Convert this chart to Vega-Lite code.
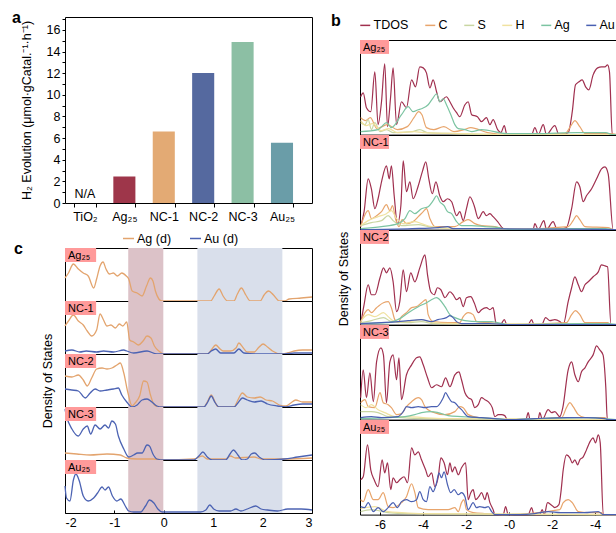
{
"$schema":"https://vega.github.io/schema/vega-lite/v6.json",
"padding":{"left":11,"top":9,"right":0,"bottom":0},
"background":"white",
"config":{"font":"Liberation Sans","view":{"stroke":"black","strokeWidth":1},
"axis":{"domainColor":"black","tickColor":"black","labelColor":"black","titleColor":"black","labelFontSize":12.5,"titleFontSize":12.5,"titleFontWeight":"normal","grid":false,"labelFont":"Liberation Sans","titleFont":"Liberation Sans","labelOverlap":false},
"axisQuantitative":{"labelOverlap":false},
"legend":{"labelFont":"Liberation Sans","labelFontSize":12.5,"labelColor":"black"},
"header":{"titleFont":"Liberation Sans","titleFontWeight":"normal","titleFontSize":12.5,"titleColor":"black"},
"title":{"font":"Liberation Sans","fontSize":16,"fontWeight":"bold","color":"black"}},
"datasets":{
"bars":[{"k":"TiO₂","v":0,"n":"N/A"},{"k":"Ag₂₅","v":2.45,"n":""},{"k":"NC-1","v":6.62,"n":""},{"k":"NC-2","v":12.02,"n":""},{"k":"NC-3","v":14.88,"n":""},{"k":"Au₂₅","v":5.58,"n":""}],
"dosc":[
{"p":"Ag₂₅","s":"pink","x":-0.72,"x2":-0.01},{"p":"Ag₂₅","s":"blue","x":0.68,"x2":2.4},
{"p":"NC-1","s":"pink","x":-0.72,"x2":-0.01},{"p":"NC-1","s":"blue","x":0.68,"x2":2.4},
{"p":"NC-2","s":"pink","x":-0.72,"x2":-0.01},{"p":"NC-2","s":"blue","x":0.68,"x2":2.4},
{"p":"NC-3","s":"pink","x":-0.72,"x2":-0.01},{"p":"NC-3","s":"blue","x":0.68,"x2":2.4},
{"p":"Au₂₅","s":"pink","x":-0.72,"x2":-0.01},{"p":"Au₂₅","s":"blue","x":0.68,"x2":2.4},
{"p":"Ag₂₅","s":"lab","t":"Ag₂₅"},{"p":"NC-1","s":"lab","t":"NC-1"},{"p":"NC-2","s":"lab","t":"NC-2"},{"p":"NC-3","s":"lab","t":"NC-3"},{"p":"Au₂₅","s":"lab","t":"Au₂₅"},
{"p":"Ag₂₅","s":"Ag (d)","x":-2.0,"y":23},{"p":"Ag₂₅","s":"Ag (d)","x":-1.93,"y":28},{"p":"Ag₂₅","s":"Ag (d)","x":-1.83,"y":37},{"p":"Ag₂₅","s":"Ag (d)","x":-1.73,"y":32},{"p":"Ag₂₅","s":"Ag (d)","x":-1.63,"y":28},{"p":"Ag₂₅","s":"Ag (d)","x":-1.53,"y":25},{"p":"Ag₂₅","s":"Ag (d)","x":-1.42,"y":13},{"p":"Ag₂₅","s":"Ag (d)","x":-1.36,"y":22},{"p":"Ag₂₅","s":"Ag (d)","x":-1.29,"y":35},{"p":"Ag₂₅","s":"Ag (d)","x":-1.23,"y":39},{"p":"Ag₂₅","s":"Ag (d)","x":-1.17,"y":32},{"p":"Ag₂₅","s":"Ag (d)","x":-1.1,"y":27},{"p":"Ag₂₅","s":"Ag (d)","x":-1.02,"y":28},{"p":"Ag₂₅","s":"Ag (d)","x":-0.94,"y":25},{"p":"Ag₂₅","s":"Ag (d)","x":-0.85,"y":28},{"p":"Ag₂₅","s":"Ag (d)","x":-0.76,"y":25},{"p":"Ag₂₅","s":"Ag (d)","x":-0.71,"y":22},{"p":"Ag₂₅","s":"Ag (d)","x":-0.64,"y":10},{"p":"Ag₂₅","s":"Ag (d)","x":-0.54,"y":8},{"p":"Ag₂₅","s":"Ag (d)","x":-0.44,"y":5},{"p":"Ag₂₅","s":"Ag (d)","x":-0.35,"y":15},{"p":"Ag₂₅","s":"Ag (d)","x":-0.27,"y":23},{"p":"Ag₂₅","s":"Ag (d)","x":-0.22,"y":20},{"p":"Ag₂₅","s":"Ag (d)","x":-0.17,"y":10},{"p":"Ag₂₅","s":"Ag (d)","x":-0.1,"y":2},{"p":"Ag₂₅","s":"Ag (d)","x":-0.04,"y":0},{"p":"Ag₂₅","s":"Ag (d)","x":0.95,"y":0},{"p":"Ag₂₅","s":"Ag (d)","x":1.02,"y":5},{"p":"Ag₂₅","s":"Ag (d)","x":1.12,"y":12},{"p":"Ag₂₅","s":"Ag (d)","x":1.2,"y":5},{"p":"Ag₂₅","s":"Ag (d)","x":1.29,"y":0},{"p":"Ag₂₅","s":"Ag (d)","x":1.42,"y":0},{"p":"Ag₂₅","s":"Ag (d)","x":1.49,"y":7},{"p":"Ag₂₅","s":"Ag (d)","x":1.57,"y":13},{"p":"Ag₂₅","s":"Ag (d)","x":1.66,"y":6},{"p":"Ag₂₅","s":"Ag (d)","x":1.75,"y":0},{"p":"Ag₂₅","s":"Ag (d)","x":1.95,"y":0},{"p":"Ag₂₅","s":"Ag (d)","x":2.03,"y":6},{"p":"Ag₂₅","s":"Ag (d)","x":2.12,"y":10},{"p":"Ag₂₅","s":"Ag (d)","x":2.22,"y":6},{"p":"Ag₂₅","s":"Ag (d)","x":2.34,"y":0},{"p":"Ag₂₅","s":"Ag (d)","x":2.44,"y":0},{"p":"Ag₂₅","s":"Ag (d)","x":2.54,"y":2},{"p":"Ag₂₅","s":"Ag (d)","x":2.78,"y":3},{"p":"Ag₂₅","s":"Ag (d)","x":3.0,"y":4},
{"p":"NC-1","s":"Ag (d)","x":-2.0,"y":28},{"p":"NC-1","s":"Ag (d)","x":-1.93,"y":33},{"p":"NC-1","s":"Ag (d)","x":-1.83,"y":39},{"p":"NC-1","s":"Ag (d)","x":-1.73,"y":33},{"p":"NC-1","s":"Ag (d)","x":-1.63,"y":29},{"p":"NC-1","s":"Ag (d)","x":-1.55,"y":23},{"p":"NC-1","s":"Ag (d)","x":-1.46,"y":18},{"p":"NC-1","s":"Ag (d)","x":-1.36,"y":24},{"p":"NC-1","s":"Ag (d)","x":-1.29,"y":40},{"p":"NC-1","s":"Ag (d)","x":-1.22,"y":34},{"p":"NC-1","s":"Ag (d)","x":-1.15,"y":28},{"p":"NC-1","s":"Ag (d)","x":-1.07,"y":29},{"p":"NC-1","s":"Ag (d)","x":-0.98,"y":26},{"p":"NC-1","s":"Ag (d)","x":-0.9,"y":30},{"p":"NC-1","s":"Ag (d)","x":-0.83,"y":28},{"p":"NC-1","s":"Ag (d)","x":-0.75,"y":32},{"p":"NC-1","s":"Ag (d)","x":-0.69,"y":14},{"p":"NC-1","s":"Ag (d)","x":-0.61,"y":12},{"p":"NC-1","s":"Ag (d)","x":-0.51,"y":9},{"p":"NC-1","s":"Ag (d)","x":-0.42,"y":13},{"p":"NC-1","s":"Ag (d)","x":-0.34,"y":18},{"p":"NC-1","s":"Ag (d)","x":-0.26,"y":16},{"p":"NC-1","s":"Ag (d)","x":-0.19,"y":8},{"p":"NC-1","s":"Ag (d)","x":-0.1,"y":3},{"p":"NC-1","s":"Ag (d)","x":0.0,"y":0},{"p":"NC-1","s":"Ag (d)","x":0.88,"y":0},{"p":"NC-1","s":"Ag (d)","x":0.96,"y":4},{"p":"NC-1","s":"Ag (d)","x":1.05,"y":9},{"p":"NC-1","s":"Ag (d)","x":1.14,"y":5},{"p":"NC-1","s":"Ag (d)","x":1.2,"y":3},{"p":"NC-1","s":"Ag (d)","x":1.35,"y":3},{"p":"NC-1","s":"Ag (d)","x":1.46,"y":6},{"p":"NC-1","s":"Ag (d)","x":1.52,"y":11},{"p":"NC-1","s":"Ag (d)","x":1.61,"y":6},{"p":"NC-1","s":"Ag (d)","x":1.69,"y":2},{"p":"NC-1","s":"Ag (d)","x":1.83,"y":2},{"p":"NC-1","s":"Ag (d)","x":1.93,"y":7},{"p":"NC-1","s":"Ag (d)","x":2.01,"y":10},{"p":"NC-1","s":"Ag (d)","x":2.1,"y":7},{"p":"NC-1","s":"Ag (d)","x":2.2,"y":3},{"p":"NC-1","s":"Ag (d)","x":2.37,"y":0},{"p":"NC-1","s":"Ag (d)","x":2.5,"y":1},{"p":"NC-1","s":"Ag (d)","x":2.64,"y":3},{"p":"NC-1","s":"Ag (d)","x":2.81,"y":4},{"p":"NC-1","s":"Ag (d)","x":3.0,"y":4},
{"p":"NC-1","s":"Au (d)","x":-2.0,"y":3},{"p":"NC-1","s":"Au (d)","x":-1.86,"y":4},{"p":"NC-1","s":"Au (d)","x":-1.7,"y":2},{"p":"NC-1","s":"Au (d)","x":-1.57,"y":3},{"p":"NC-1","s":"Au (d)","x":-1.36,"y":2},{"p":"NC-1","s":"Au (d)","x":-1.22,"y":3},{"p":"NC-1","s":"Au (d)","x":-1.02,"y":2},{"p":"NC-1","s":"Au (d)","x":-0.81,"y":4},{"p":"NC-1","s":"Au (d)","x":-0.75,"y":3},{"p":"NC-1","s":"Au (d)","x":-0.61,"y":1},{"p":"NC-1","s":"Au (d)","x":-0.34,"y":3},{"p":"NC-1","s":"Au (d)","x":-0.14,"y":0},{"p":"NC-1","s":"Au (d)","x":0.88,"y":0},{"p":"NC-1","s":"Au (d)","x":0.96,"y":3},{"p":"NC-1","s":"Au (d)","x":1.05,"y":5},{"p":"NC-1","s":"Au (d)","x":1.15,"y":1},{"p":"NC-1","s":"Au (d)","x":1.42,"y":1},{"p":"NC-1","s":"Au (d)","x":1.52,"y":5},{"p":"NC-1","s":"Au (d)","x":1.62,"y":1},{"p":"NC-1","s":"Au (d)","x":1.9,"y":0},{"p":"NC-1","s":"Au (d)","x":2.44,"y":0},{"p":"NC-1","s":"Au (d)","x":2.64,"y":1},{"p":"NC-1","s":"Au (d)","x":3.0,"y":1},
{"p":"NC-2","s":"Ag (d)","x":-2.0,"y":31},{"p":"NC-2","s":"Ag (d)","x":-1.86,"y":30},{"p":"NC-2","s":"Ag (d)","x":-1.73,"y":32},{"p":"NC-2","s":"Ag (d)","x":-1.63,"y":27},{"p":"NC-2","s":"Ag (d)","x":-1.55,"y":21},{"p":"NC-2","s":"Ag (d)","x":-1.46,"y":29},{"p":"NC-2","s":"Ag (d)","x":-1.36,"y":38},{"p":"NC-2","s":"Ag (d)","x":-1.25,"y":39},{"p":"NC-2","s":"Ag (d)","x":-1.15,"y":38},{"p":"NC-2","s":"Ag (d)","x":-1.05,"y":39},{"p":"NC-2","s":"Ag (d)","x":-0.95,"y":42},{"p":"NC-2","s":"Ag (d)","x":-0.88,"y":44},{"p":"NC-2","s":"Ag (d)","x":-0.81,"y":34},{"p":"NC-2","s":"Ag (d)","x":-0.73,"y":15},{"p":"NC-2","s":"Ag (d)","x":-0.64,"y":1},{"p":"NC-2","s":"Ag (d)","x":-0.58,"y":4},{"p":"NC-2","s":"Ag (d)","x":-0.49,"y":11},{"p":"NC-2","s":"Ag (d)","x":-0.41,"y":26},{"p":"NC-2","s":"Ag (d)","x":-0.34,"y":25},{"p":"NC-2","s":"Ag (d)","x":-0.27,"y":12},{"p":"NC-2","s":"Ag (d)","x":-0.19,"y":2},{"p":"NC-2","s":"Ag (d)","x":-0.1,"y":0},{"p":"NC-2","s":"Ag (d)","x":0.81,"y":0},{"p":"NC-2","s":"Ag (d)","x":0.89,"y":6},{"p":"NC-2","s":"Ag (d)","x":0.96,"y":12},{"p":"NC-2","s":"Ag (d)","x":1.03,"y":6},{"p":"NC-2","s":"Ag (d)","x":1.1,"y":0},{"p":"NC-2","s":"Ag (d)","x":1.42,"y":0},{"p":"NC-2","s":"Ag (d)","x":1.5,"y":7},{"p":"NC-2","s":"Ag (d)","x":1.59,"y":14},{"p":"NC-2","s":"Ag (d)","x":1.69,"y":10},{"p":"NC-2","s":"Ag (d)","x":1.83,"y":9},{"p":"NC-2","s":"Ag (d)","x":1.95,"y":10},{"p":"NC-2","s":"Ag (d)","x":2.07,"y":7},{"p":"NC-2","s":"Ag (d)","x":2.2,"y":6},{"p":"NC-2","s":"Ag (d)","x":2.34,"y":2},{"p":"NC-2","s":"Ag (d)","x":2.47,"y":1},{"p":"NC-2","s":"Ag (d)","x":2.57,"y":4},{"p":"NC-2","s":"Ag (d)","x":2.67,"y":7},{"p":"NC-2","s":"Ag (d)","x":2.81,"y":5},{"p":"NC-2","s":"Ag (d)","x":3.0,"y":5},
{"p":"NC-2","s":"Au (d)","x":-2.0,"y":18},{"p":"NC-2","s":"Au (d)","x":-1.86,"y":17},{"p":"NC-2","s":"Au (d)","x":-1.73,"y":16},{"p":"NC-2","s":"Au (d)","x":-1.59,"y":9},{"p":"NC-2","s":"Au (d)","x":-1.49,"y":14},{"p":"NC-2","s":"Au (d)","x":-1.39,"y":18},{"p":"NC-2","s":"Au (d)","x":-1.29,"y":16},{"p":"NC-2","s":"Au (d)","x":-1.15,"y":17},{"p":"NC-2","s":"Au (d)","x":-1.02,"y":18},{"p":"NC-2","s":"Au (d)","x":-0.92,"y":19},{"p":"NC-2","s":"Au (d)","x":-0.85,"y":12},{"p":"NC-2","s":"Au (d)","x":-0.75,"y":5},{"p":"NC-2","s":"Au (d)","x":-0.64,"y":0},{"p":"NC-2","s":"Au (d)","x":-0.54,"y":2},{"p":"NC-2","s":"Au (d)","x":-0.44,"y":7},{"p":"NC-2","s":"Au (d)","x":-0.34,"y":8},{"p":"NC-2","s":"Au (d)","x":-0.24,"y":5},{"p":"NC-2","s":"Au (d)","x":-0.14,"y":1},{"p":"NC-2","s":"Au (d)","x":-0.04,"y":0},{"p":"NC-2","s":"Au (d)","x":0.81,"y":0},{"p":"NC-2","s":"Au (d)","x":0.89,"y":5},{"p":"NC-2","s":"Au (d)","x":0.96,"y":11},{"p":"NC-2","s":"Au (d)","x":1.03,"y":5},{"p":"NC-2","s":"Au (d)","x":1.12,"y":0},{"p":"NC-2","s":"Au (d)","x":1.42,"y":0},{"p":"NC-2","s":"Au (d)","x":1.5,"y":4},{"p":"NC-2","s":"Au (d)","x":1.59,"y":9},{"p":"NC-2","s":"Au (d)","x":1.69,"y":7},{"p":"NC-2","s":"Au (d)","x":1.83,"y":5},{"p":"NC-2","s":"Au (d)","x":1.97,"y":6},{"p":"NC-2","s":"Au (d)","x":2.1,"y":3},{"p":"NC-2","s":"Au (d)","x":2.3,"y":1},{"p":"NC-2","s":"Au (d)","x":2.47,"y":0},{"p":"NC-2","s":"Au (d)","x":2.64,"y":2},{"p":"NC-2","s":"Au (d)","x":2.81,"y":3},{"p":"NC-2","s":"Au (d)","x":3.0,"y":3},
{"p":"NC-3","s":"Ag (d)","x":-2.0,"y":7},{"p":"NC-3","s":"Ag (d)","x":-1.76,"y":6},{"p":"NC-3","s":"Ag (d)","x":-1.49,"y":5},{"p":"NC-3","s":"Ag (d)","x":-1.15,"y":6},{"p":"NC-3","s":"Ag (d)","x":-0.88,"y":5},{"p":"NC-3","s":"Ag (d)","x":-0.75,"y":2},{"p":"NC-3","s":"Ag (d)","x":-0.54,"y":1},{"p":"NC-3","s":"Ag (d)","x":-0.2,"y":1},{"p":"NC-3","s":"Ag (d)","x":0.0,"y":0},{"p":"NC-3","s":"Ag (d)","x":0.61,"y":1},{"p":"NC-3","s":"Ag (d)","x":0.78,"y":4},{"p":"NC-3","s":"Ag (d)","x":0.88,"y":1},{"p":"NC-3","s":"Ag (d)","x":1.25,"y":1},{"p":"NC-3","s":"Ag (d)","x":1.35,"y":4},{"p":"NC-3","s":"Ag (d)","x":1.45,"y":2},{"p":"NC-3","s":"Ag (d)","x":1.83,"y":3},{"p":"NC-3","s":"Ag (d)","x":1.97,"y":1},{"p":"NC-3","s":"Ag (d)","x":2.44,"y":1},{"p":"NC-3","s":"Ag (d)","x":3.0,"y":2},
{"p":"NC-3","s":"Au (d)","x":-2.0,"y":51},{"p":"NC-3","s":"Au (d)","x":-1.97,"y":44},{"p":"NC-3","s":"Au (d)","x":-1.86,"y":31},{"p":"NC-3","s":"Au (d)","x":-1.73,"y":24},{"p":"NC-3","s":"Au (d)","x":-1.63,"y":31},{"p":"NC-3","s":"Au (d)","x":-1.55,"y":34},{"p":"NC-3","s":"Au (d)","x":-1.48,"y":26},{"p":"NC-3","s":"Au (d)","x":-1.39,"y":35},{"p":"NC-3","s":"Au (d)","x":-1.29,"y":31},{"p":"NC-3","s":"Au (d)","x":-1.19,"y":35},{"p":"NC-3","s":"Au (d)","x":-1.12,"y":32},{"p":"NC-3","s":"Au (d)","x":-1.05,"y":39},{"p":"NC-3","s":"Au (d)","x":-0.98,"y":36},{"p":"NC-3","s":"Au (d)","x":-0.92,"y":24},{"p":"NC-3","s":"Au (d)","x":-0.81,"y":11},{"p":"NC-3","s":"Au (d)","x":-0.71,"y":3},{"p":"NC-3","s":"Au (d)","x":-0.61,"y":5},{"p":"NC-3","s":"Au (d)","x":-0.53,"y":7},{"p":"NC-3","s":"Au (d)","x":-0.44,"y":7},{"p":"NC-3","s":"Au (d)","x":-0.34,"y":15},{"p":"NC-3","s":"Au (d)","x":-0.29,"y":14},{"p":"NC-3","s":"Au (d)","x":-0.22,"y":6},{"p":"NC-3","s":"Au (d)","x":-0.14,"y":1},{"p":"NC-3","s":"Au (d)","x":0.0,"y":0},{"p":"NC-3","s":"Au (d)","x":0.61,"y":0},{"p":"NC-3","s":"Au (d)","x":0.71,"y":4},{"p":"NC-3","s":"Au (d)","x":0.79,"y":8},{"p":"NC-3","s":"Au (d)","x":0.88,"y":3},{"p":"NC-3","s":"Au (d)","x":0.98,"y":0},{"p":"NC-3","s":"Au (d)","x":1.25,"y":0},{"p":"NC-3","s":"Au (d)","x":1.34,"y":6},{"p":"NC-3","s":"Au (d)","x":1.41,"y":10},{"p":"NC-3","s":"Au (d)","x":1.5,"y":5},{"p":"NC-3","s":"Au (d)","x":1.59,"y":0},{"p":"NC-3","s":"Au (d)","x":1.69,"y":1},{"p":"NC-3","s":"Au (d)","x":1.77,"y":6},{"p":"NC-3","s":"Au (d)","x":1.84,"y":7},{"p":"NC-3","s":"Au (d)","x":1.93,"y":3},{"p":"NC-3","s":"Au (d)","x":2.06,"y":0},{"p":"NC-3","s":"Au (d)","x":2.44,"y":1},{"p":"NC-3","s":"Au (d)","x":2.71,"y":3},{"p":"NC-3","s":"Au (d)","x":3.0,"y":5},
{"p":"Au₂₅","s":"Au (d)","x":-2.0,"y":27},{"p":"Au₂₅","s":"Au (d)","x":-1.97,"y":15},{"p":"Au₂₅","s":"Au (d)","x":-1.9,"y":12},{"p":"Au₂₅","s":"Au (d)","x":-1.83,"y":33},{"p":"Au₂₅","s":"Au (d)","x":-1.78,"y":39},{"p":"Au₂₅","s":"Au (d)","x":-1.71,"y":32},{"p":"Au₂₅","s":"Au (d)","x":-1.63,"y":17},{"p":"Au₂₅","s":"Au (d)","x":-1.53,"y":12},{"p":"Au₂₅","s":"Au (d)","x":-1.42,"y":15},{"p":"Au₂₅","s":"Au (d)","x":-1.34,"y":20},{"p":"Au₂₅","s":"Au (d)","x":-1.25,"y":26},{"p":"Au₂₅","s":"Au (d)","x":-1.19,"y":23},{"p":"Au₂₅","s":"Au (d)","x":-1.12,"y":26},{"p":"Au₂₅","s":"Au (d)","x":-1.04,"y":17},{"p":"Au₂₅","s":"Au (d)","x":-0.95,"y":12},{"p":"Au₂₅","s":"Au (d)","x":-0.87,"y":14},{"p":"Au₂₅","s":"Au (d)","x":-0.78,"y":7},{"p":"Au₂₅","s":"Au (d)","x":-0.71,"y":2},{"p":"Au₂₅","s":"Au (d)","x":-0.61,"y":1},{"p":"Au₂₅","s":"Au (d)","x":-0.47,"y":1},{"p":"Au₂₅","s":"Au (d)","x":-0.37,"y":7},{"p":"Au₂₅","s":"Au (d)","x":-0.29,"y":13},{"p":"Au₂₅","s":"Au (d)","x":-0.2,"y":10},{"p":"Au₂₅","s":"Au (d)","x":-0.12,"y":4},{"p":"Au₂₅","s":"Au (d)","x":-0.03,"y":1},{"p":"Au₂₅","s":"Au (d)","x":0.74,"y":1},{"p":"Au₂₅","s":"Au (d)","x":0.85,"y":3},{"p":"Au₂₅","s":"Au (d)","x":0.93,"y":8},{"p":"Au₂₅","s":"Au (d)","x":1.01,"y":4},{"p":"Au₂₅","s":"Au (d)","x":1.12,"y":2},{"p":"Au₂₅","s":"Au (d)","x":1.35,"y":2},{"p":"Au₂₅","s":"Au (d)","x":1.46,"y":4},{"p":"Au₂₅","s":"Au (d)","x":1.56,"y":2},{"p":"Au₂₅","s":"Au (d)","x":1.69,"y":4},{"p":"Au₂₅","s":"Au (d)","x":1.86,"y":7},{"p":"Au₂₅","s":"Au (d)","x":1.97,"y":4},{"p":"Au₂₅","s":"Au (d)","x":2.1,"y":3},{"p":"Au₂₅","s":"Au (d)","x":2.3,"y":2},{"p":"Au₂₅","s":"Au (d)","x":2.51,"y":4},{"p":"Au₂₅","s":"Au (d)","x":2.78,"y":4},{"p":"Au₂₅","s":"Au (d)","x":3.0,"y":3}
],
"dosb":[
{"p":"Ag₂₅","s":"lab","t":"Ag₂₅"},{"p":"NC-1","s":"lab","t":"NC-1"},{"p":"NC-2","s":"lab","t":"NC-2"},{"p":"NC-3","s":"lab","t":"NC-3"},{"p":"Au₂₅","s":"lab","t":"Au₂₅"},
{"p":"Ag₂₅","s":"TDOS","x":-6.9,"y":38},{"p":"Ag₂₅","s":"TDOS","x":-6.78,"y":42},{"p":"Ag₂₅","s":"TDOS","x":-6.63,"y":27},{"p":"Ag₂₅","s":"TDOS","x":-6.43,"y":23},{"p":"Ag₂₅","s":"TDOS","x":-6.24,"y":63},{"p":"Ag₂₅","s":"TDOS","x":-6.09,"y":10},{"p":"Ag₂₅","s":"TDOS","x":-5.93,"y":33},{"p":"Ag₂₅","s":"TDOS","x":-5.78,"y":71},{"p":"Ag₂₅","s":"TDOS","x":-5.65,"y":8},{"p":"Ag₂₅","s":"TDOS","x":-5.51,"y":37},{"p":"Ag₂₅","s":"TDOS","x":-5.39,"y":67},{"p":"Ag₂₅","s":"TDOS","x":-5.23,"y":10},{"p":"Ag₂₅","s":"TDOS","x":-5.0,"y":33},{"p":"Ag₂₅","s":"TDOS","x":-4.77,"y":27},{"p":"Ag₂₅","s":"TDOS","x":-4.53,"y":55},{"p":"Ag₂₅","s":"TDOS","x":-4.35,"y":48},{"p":"Ag₂₅","s":"TDOS","x":-4.15,"y":68},{"p":"Ag₂₅","s":"TDOS","x":-3.99,"y":67},{"p":"Ag₂₅","s":"TDOS","x":-3.84,"y":62},{"p":"Ag₂₅","s":"TDOS","x":-3.68,"y":47},{"p":"Ag₂₅","s":"TDOS","x":-3.53,"y":55},{"p":"Ag₂₅","s":"TDOS","x":-3.37,"y":43},{"p":"Ag₂₅","s":"TDOS","x":-3.22,"y":33},{"p":"Ag₂₅","s":"TDOS","x":-2.91,"y":38},{"p":"Ag₂₅","s":"TDOS","x":-2.75,"y":33},{"p":"Ag₂₅","s":"TDOS","x":-2.6,"y":27},{"p":"Ag₂₅","s":"TDOS","x":-2.44,"y":22},{"p":"Ag₂₅","s":"TDOS","x":-2.29,"y":18},{"p":"Ag₂₅","s":"TDOS","x":-2.05,"y":30},{"p":"Ag₂₅","s":"TDOS","x":-1.9,"y":33},{"p":"Ag₂₅","s":"TDOS","x":-1.74,"y":20},{"p":"Ag₂₅","s":"TDOS","x":-1.47,"y":18},{"p":"Ag₂₅","s":"TDOS","x":-1.28,"y":13},{"p":"Ag₂₅","s":"TDOS","x":-1.05,"y":17},{"p":"Ag₂₅","s":"TDOS","x":-0.89,"y":10},{"p":"Ag₂₅","s":"TDOS","x":-0.74,"y":15},{"p":"Ag₂₅","s":"TDOS","x":-0.53,"y":5},{"p":"Ag₂₅","s":"TDOS","x":-0.38,"y":2},{"p":"Ag₂₅","s":"TDOS","x":-0.22,"y":9},{"p":"Ag₂₅","s":"TDOS","x":-0.1,"y":0},{"p":"Ag₂₅","s":"TDOS","x":1.05,"y":0},{"p":"Ag₂₅","s":"TDOS","x":1.2,"y":7},{"p":"Ag₂₅","s":"TDOS","x":1.36,"y":0},{"p":"Ag₂₅","s":"TDOS","x":1.59,"y":10},{"p":"Ag₂₅","s":"TDOS","x":1.74,"y":0},{"p":"Ag₂₅","s":"TDOS","x":2.13,"y":9},{"p":"Ag₂₅","s":"TDOS","x":2.32,"y":0},{"p":"Ag₂₅","s":"TDOS","x":2.75,"y":2},{"p":"Ag₂₅","s":"TDOS","x":2.94,"y":23},{"p":"Ag₂₅","s":"TDOS","x":3.09,"y":50},{"p":"Ag₂₅","s":"TDOS","x":3.25,"y":53},{"p":"Ag₂₅","s":"TDOS","x":3.4,"y":55},{"p":"Ag₂₅","s":"TDOS","x":3.56,"y":48},{"p":"Ag₂₅","s":"TDOS","x":3.71,"y":45},{"p":"Ag₂₅","s":"TDOS","x":3.91,"y":60},{"p":"Ag₂₅","s":"TDOS","x":4.12,"y":67},{"p":"Ag₂₅","s":"TDOS","x":4.3,"y":68},{"p":"Ag₂₅","s":"TDOS","x":4.46,"y":68},{"p":"Ag₂₅","s":"TDOS","x":4.58,"y":70},{"p":"Ag₂₅","s":"TDOS","x":4.67,"y":63},{"p":"Ag₂₅","s":"TDOS","x":4.8,"y":0},{"p":"Ag₂₅","s":"TDOS","x":5.02,"y":0},
{"p":"Ag₂₅","s":"C","x":-6.9,"y":17},{"p":"Ag₂₅","s":"C","x":-6.68,"y":14},{"p":"Ag₂₅","s":"C","x":-6.45,"y":17},{"p":"Ag₂₅","s":"C","x":-6.14,"y":6},{"p":"Ag₂₅","s":"C","x":-5.66,"y":10},{"p":"Ag₂₅","s":"C","x":-5.19,"y":5},{"p":"Ag₂₅","s":"C","x":-4.73,"y":8},{"p":"Ag₂₅","s":"C","x":-4.42,"y":17},{"p":"Ag₂₅","s":"C","x":-4.2,"y":23},{"p":"Ag₂₅","s":"C","x":-4.05,"y":20},{"p":"Ag₂₅","s":"C","x":-3.84,"y":7},{"p":"Ag₂₅","s":"C","x":-3.5,"y":5},{"p":"Ag₂₅","s":"C","x":-3.03,"y":8},{"p":"Ag₂₅","s":"C","x":-2.56,"y":3},{"p":"Ag₂₅","s":"C","x":-2.09,"y":5},{"p":"Ag₂₅","s":"C","x":-1.78,"y":7},{"p":"Ag₂₅","s":"C","x":-1.0,"y":2},{"p":"Ag₂₅","s":"C","x":-0.05,"y":0},{"p":"Ag₂₅","s":"C","x":2.6,"y":1},{"p":"Ag₂₅","s":"C","x":2.91,"y":10},{"p":"Ag₂₅","s":"C","x":3.06,"y":14},{"p":"Ag₂₅","s":"C","x":3.29,"y":8},{"p":"Ag₂₅","s":"C","x":3.53,"y":1},{"p":"Ag₂₅","s":"C","x":4.75,"y":1},{"p":"Ag₂₅","s":"C","x":5.02,"y":0},
{"p":"Ag₂₅","s":"S","x":-6.9,"y":12},{"p":"Ag₂₅","s":"S","x":-6.7,"y":10},{"p":"Ag₂₅","s":"S","x":-6.55,"y":15},{"p":"Ag₂₅","s":"S","x":-6.4,"y":5},{"p":"Ag₂₅","s":"S","x":-6.24,"y":12},{"p":"Ag₂₅","s":"S","x":-6.0,"y":3},{"p":"Ag₂₅","s":"S","x":-5.7,"y":5},{"p":"Ag₂₅","s":"S","x":-5.4,"y":2},{"p":"Ag₂₅","s":"S","x":-4.5,"y":3},{"p":"Ag₂₅","s":"S","x":-4.15,"y":5},{"p":"Ag₂₅","s":"S","x":-3.8,"y":2},{"p":"Ag₂₅","s":"S","x":-2.5,"y":1},{"p":"Ag₂₅","s":"S","x":-0.1,"y":0},{"p":"Ag₂₅","s":"S","x":5.02,"y":0},
{"p":"Ag₂₅","s":"H","x":-6.9,"y":14},{"p":"Ag₂₅","s":"H","x":-6.65,"y":9},{"p":"Ag₂₅","s":"H","x":-6.35,"y":11},{"p":"Ag₂₅","s":"H","x":-5.95,"y":4},{"p":"Ag₂₅","s":"H","x":-5.6,"y":6},{"p":"Ag₂₅","s":"H","x":-5.2,"y":2},{"p":"Ag₂₅","s":"H","x":-4.4,"y":3},{"p":"Ag₂₅","s":"H","x":-4.0,"y":2},{"p":"Ag₂₅","s":"H","x":-2.0,"y":1},{"p":"Ag₂₅","s":"H","x":-0.1,"y":0},{"p":"Ag₂₅","s":"H","x":5.02,"y":0},
{"p":"Ag₂₅","s":"Ag","x":-6.9,"y":3},{"p":"Ag₂₅","s":"Ag","x":-6.09,"y":5},{"p":"Ag₂₅","s":"Ag","x":-5.93,"y":8},{"p":"Ag₂₅","s":"Ag","x":-5.7,"y":12},{"p":"Ag₂₅","s":"Ag","x":-5.47,"y":7},{"p":"Ag₂₅","s":"Ag","x":-5.0,"y":20},{"p":"Ag₂₅","s":"Ag","x":-4.69,"y":28},{"p":"Ag₂₅","s":"Ag","x":-4.46,"y":23},{"p":"Ag₂₅","s":"Ag","x":-4.22,"y":25},{"p":"Ag₂₅","s":"Ag","x":-4.07,"y":26},{"p":"Ag₂₅","s":"Ag","x":-3.76,"y":30},{"p":"Ag₂₅","s":"Ag","x":-3.53,"y":37},{"p":"Ag₂₅","s":"Ag","x":-3.37,"y":41},{"p":"Ag₂₅","s":"Ag","x":-3.22,"y":33},{"p":"Ag₂₅","s":"Ag","x":-3.06,"y":36},{"p":"Ag₂₅","s":"Ag","x":-2.91,"y":30},{"p":"Ag₂₅","s":"Ag","x":-2.67,"y":18},{"p":"Ag₂₅","s":"Ag","x":-2.52,"y":10},{"p":"Ag₂₅","s":"Ag","x":-2.36,"y":6},{"p":"Ag₂₅","s":"Ag","x":-2.05,"y":5},{"p":"Ag₂₅","s":"Ag","x":-1.74,"y":3},{"p":"Ag₂₅","s":"Ag","x":-1.28,"y":5},{"p":"Ag₂₅","s":"Ag","x":-0.1,"y":1},{"p":"Ag₂₅","s":"Ag","x":1.2,"y":1},{"p":"Ag₂₅","s":"Ag","x":3.2,"y":2},{"p":"Ag₂₅","s":"Ag","x":4.5,"y":2},{"p":"Ag₂₅","s":"Ag","x":4.8,"y":0},{"p":"Ag₂₅","s":"Ag","x":5.02,"y":0},
{"p":"NC-1","s":"TDOS","x":-6.9,"y":3},{"p":"NC-1","s":"TDOS","x":-6.74,"y":18},{"p":"NC-1","s":"TDOS","x":-6.55,"y":51},{"p":"NC-1","s":"TDOS","x":-6.4,"y":41},{"p":"NC-1","s":"TDOS","x":-6.24,"y":21},{"p":"NC-1","s":"TDOS","x":-6.09,"y":31},{"p":"NC-1","s":"TDOS","x":-5.93,"y":48},{"p":"NC-1","s":"TDOS","x":-5.7,"y":64},{"p":"NC-1","s":"TDOS","x":-5.57,"y":51},{"p":"NC-1","s":"TDOS","x":-5.47,"y":64},{"p":"NC-1","s":"TDOS","x":-5.34,"y":34},{"p":"NC-1","s":"TDOS","x":-5.19,"y":6},{"p":"NC-1","s":"TDOS","x":-5.03,"y":24},{"p":"NC-1","s":"TDOS","x":-4.92,"y":69},{"p":"NC-1","s":"TDOS","x":-4.77,"y":38},{"p":"NC-1","s":"TDOS","x":-4.61,"y":48},{"p":"NC-1","s":"TDOS","x":-4.46,"y":31},{"p":"NC-1","s":"TDOS","x":-4.22,"y":44},{"p":"NC-1","s":"TDOS","x":-4.02,"y":59},{"p":"NC-1","s":"TDOS","x":-3.87,"y":68},{"p":"NC-1","s":"TDOS","x":-3.73,"y":51},{"p":"NC-1","s":"TDOS","x":-3.57,"y":36},{"p":"NC-1","s":"TDOS","x":-3.4,"y":48},{"p":"NC-1","s":"TDOS","x":-3.22,"y":34},{"p":"NC-1","s":"TDOS","x":-3.06,"y":28},{"p":"NC-1","s":"TDOS","x":-2.86,"y":31},{"p":"NC-1","s":"TDOS","x":-2.67,"y":28},{"p":"NC-1","s":"TDOS","x":-2.44,"y":14},{"p":"NC-1","s":"TDOS","x":-2.29,"y":18},{"p":"NC-1","s":"TDOS","x":-2.13,"y":9},{"p":"NC-1","s":"TDOS","x":-1.98,"y":21},{"p":"NC-1","s":"TDOS","x":-1.82,"y":33},{"p":"NC-1","s":"TDOS","x":-1.62,"y":24},{"p":"NC-1","s":"TDOS","x":-1.43,"y":11},{"p":"NC-1","s":"TDOS","x":-1.2,"y":18},{"p":"NC-1","s":"TDOS","x":-1.05,"y":14},{"p":"NC-1","s":"TDOS","x":-0.89,"y":16},{"p":"NC-1","s":"TDOS","x":-0.74,"y":13},{"p":"NC-1","s":"TDOS","x":-0.53,"y":8},{"p":"NC-1","s":"TDOS","x":-0.27,"y":1},{"p":"NC-1","s":"TDOS","x":-0.1,"y":0},{"p":"NC-1","s":"TDOS","x":1.12,"y":0},{"p":"NC-1","s":"TDOS","x":1.2,"y":6},{"p":"NC-1","s":"TDOS","x":1.36,"y":0},{"p":"NC-1","s":"TDOS","x":1.62,"y":9},{"p":"NC-1","s":"TDOS","x":1.74,"y":0},{"p":"NC-1","s":"TDOS","x":2.05,"y":8},{"p":"NC-1","s":"TDOS","x":2.24,"y":0},{"p":"NC-1","s":"TDOS","x":2.67,"y":2},{"p":"NC-1","s":"TDOS","x":2.91,"y":21},{"p":"NC-1","s":"TDOS","x":3.14,"y":48},{"p":"NC-1","s":"TDOS","x":3.29,"y":43},{"p":"NC-1","s":"TDOS","x":3.45,"y":28},{"p":"NC-1","s":"TDOS","x":3.6,"y":34},{"p":"NC-1","s":"TDOS","x":3.84,"y":41},{"p":"NC-1","s":"TDOS","x":4.07,"y":51},{"p":"NC-1","s":"TDOS","x":4.3,"y":61},{"p":"NC-1","s":"TDOS","x":4.46,"y":63},{"p":"NC-1","s":"TDOS","x":4.61,"y":56},{"p":"NC-1","s":"TDOS","x":4.84,"y":0},{"p":"NC-1","s":"TDOS","x":5.02,"y":0},
{"p":"NC-1","s":"C","x":-6.9,"y":3},{"p":"NC-1","s":"C","x":-6.55,"y":19},{"p":"NC-1","s":"C","x":-6.4,"y":11},{"p":"NC-1","s":"C","x":-6.16,"y":14},{"p":"NC-1","s":"C","x":-5.93,"y":18},{"p":"NC-1","s":"C","x":-5.7,"y":25},{"p":"NC-1","s":"C","x":-5.54,"y":19},{"p":"NC-1","s":"C","x":-5.42,"y":24},{"p":"NC-1","s":"C","x":-5.28,"y":11},{"p":"NC-1","s":"C","x":-5.12,"y":3},{"p":"NC-1","s":"C","x":-4.97,"y":10},{"p":"NC-1","s":"C","x":-4.77,"y":6},{"p":"NC-1","s":"C","x":-4.46,"y":8},{"p":"NC-1","s":"C","x":-4.22,"y":13},{"p":"NC-1","s":"C","x":-3.99,"y":18},{"p":"NC-1","s":"C","x":-3.84,"y":21},{"p":"NC-1","s":"C","x":-3.68,"y":11},{"p":"NC-1","s":"C","x":-3.45,"y":3},{"p":"NC-1","s":"C","x":-2.52,"y":3},{"p":"NC-1","s":"C","x":-2.13,"y":8},{"p":"NC-1","s":"C","x":-1.9,"y":10},{"p":"NC-1","s":"C","x":-1.59,"y":6},{"p":"NC-1","s":"C","x":-1.28,"y":4},{"p":"NC-1","s":"C","x":-0.66,"y":3},{"p":"NC-1","s":"C","x":-0.05,"y":0},{"p":"NC-1","s":"C","x":2.75,"y":3},{"p":"NC-1","s":"C","x":2.98,"y":9},{"p":"NC-1","s":"C","x":3.14,"y":14},{"p":"NC-1","s":"C","x":3.29,"y":10},{"p":"NC-1","s":"C","x":3.53,"y":3},{"p":"NC-1","s":"C","x":4.61,"y":2},{"p":"NC-1","s":"C","x":4.84,"y":0},{"p":"NC-1","s":"C","x":5.02,"y":0},
{"p":"NC-1","s":"S","x":-6.9,"y":4},{"p":"NC-1","s":"S","x":-6.4,"y":7},{"p":"NC-1","s":"S","x":-5.93,"y":9},{"p":"NC-1","s":"S","x":-5.62,"y":14},{"p":"NC-1","s":"S","x":-5.39,"y":9},{"p":"NC-1","s":"S","x":-5.0,"y":4},{"p":"NC-1","s":"S","x":-4.22,"y":5},{"p":"NC-1","s":"S","x":-3.76,"y":3},{"p":"NC-1","s":"S","x":-2.52,"y":1},{"p":"NC-1","s":"S","x":5.02,"y":0},
{"p":"NC-1","s":"H","x":-6.9,"y":4},{"p":"NC-1","s":"H","x":-6.55,"y":9},{"p":"NC-1","s":"H","x":-6.09,"y":13},{"p":"NC-1","s":"H","x":-5.7,"y":16},{"p":"NC-1","s":"H","x":-5.47,"y":19},{"p":"NC-1","s":"H","x":-5.23,"y":11},{"p":"NC-1","s":"H","x":-4.92,"y":6},{"p":"NC-1","s":"H","x":-4.38,"y":8},{"p":"NC-1","s":"H","x":-4.07,"y":6},{"p":"NC-1","s":"H","x":-3.61,"y":3},{"p":"NC-1","s":"H","x":-2.52,"y":1},{"p":"NC-1","s":"H","x":5.02,"y":0},
{"p":"NC-1","s":"Ag","x":-6.9,"y":1},{"p":"NC-1","s":"Ag","x":-5.93,"y":3},{"p":"NC-1","s":"Ag","x":-5.16,"y":6},{"p":"NC-1","s":"Ag","x":-4.84,"y":11},{"p":"NC-1","s":"Ag","x":-4.61,"y":19},{"p":"NC-1","s":"Ag","x":-4.38,"y":16},{"p":"NC-1","s":"Ag","x":-4.07,"y":21},{"p":"NC-1","s":"Ag","x":-3.76,"y":23},{"p":"NC-1","s":"Ag","x":-3.53,"y":29},{"p":"NC-1","s":"Ag","x":-3.37,"y":34},{"p":"NC-1","s":"Ag","x":-3.22,"y":28},{"p":"NC-1","s":"Ag","x":-3.02,"y":24},{"p":"NC-1","s":"Ag","x":-2.86,"y":18},{"p":"NC-1","s":"Ag","x":-2.67,"y":16},{"p":"NC-1","s":"Ag","x":-2.44,"y":8},{"p":"NC-1","s":"Ag","x":-2.21,"y":4},{"p":"NC-1","s":"Ag","x":-1.74,"y":4},{"p":"NC-1","s":"Ag","x":-1.12,"y":3},{"p":"NC-1","s":"Ag","x":-0.5,"y":2},{"p":"NC-1","s":"Ag","x":0.0,"y":0},{"p":"NC-1","s":"Ag","x":3.2,"y":1},{"p":"NC-1","s":"Ag","x":4.5,"y":1},{"p":"NC-1","s":"Ag","x":4.84,"y":0},{"p":"NC-1","s":"Ag","x":5.02,"y":0},
{"p":"NC-1","s":"Au","x":-6.9,"y":0},{"p":"NC-1","s":"Au","x":-4.5,"y":1},{"p":"NC-1","s":"Au","x":-3.3,"y":2},{"p":"NC-1","s":"Au","x":-2.86,"y":3},{"p":"NC-1","s":"Au","x":-2.6,"y":1},{"p":"NC-1","s":"Au","x":-1.5,"y":1},{"p":"NC-1","s":"Au","x":5.02,"y":0},
{"p":"NC-2","s":"TDOS","x":-6.9,"y":0},{"p":"NC-2","s":"TDOS","x":-6.74,"y":20},{"p":"NC-2","s":"TDOS","x":-6.55,"y":40},{"p":"NC-2","s":"TDOS","x":-6.4,"y":30},{"p":"NC-2","s":"TDOS","x":-6.24,"y":30},{"p":"NC-2","s":"TDOS","x":-6.0,"y":47},{"p":"NC-2","s":"TDOS","x":-5.84,"y":57},{"p":"NC-2","s":"TDOS","x":-5.7,"y":52},{"p":"NC-2","s":"TDOS","x":-5.54,"y":57},{"p":"NC-2","s":"TDOS","x":-5.39,"y":43},{"p":"NC-2","s":"TDOS","x":-5.23,"y":13},{"p":"NC-2","s":"TDOS","x":-5.08,"y":23},{"p":"NC-2","s":"TDOS","x":-4.92,"y":55},{"p":"NC-2","s":"TDOS","x":-4.77,"y":33},{"p":"NC-2","s":"TDOS","x":-4.57,"y":52},{"p":"NC-2","s":"TDOS","x":-4.38,"y":43},{"p":"NC-2","s":"TDOS","x":-4.15,"y":57},{"p":"NC-2","s":"TDOS","x":-3.91,"y":70},{"p":"NC-2","s":"TDOS","x":-3.79,"y":50},{"p":"NC-2","s":"TDOS","x":-3.64,"y":33},{"p":"NC-2","s":"TDOS","x":-3.48,"y":30},{"p":"NC-2","s":"TDOS","x":-3.33,"y":37},{"p":"NC-2","s":"TDOS","x":-3.17,"y":35},{"p":"NC-2","s":"TDOS","x":-2.98,"y":27},{"p":"NC-2","s":"TDOS","x":-2.75,"y":33},{"p":"NC-2","s":"TDOS","x":-2.6,"y":30},{"p":"NC-2","s":"TDOS","x":-2.44,"y":25},{"p":"NC-2","s":"TDOS","x":-2.29,"y":27},{"p":"NC-2","s":"TDOS","x":-2.13,"y":18},{"p":"NC-2","s":"TDOS","x":-1.98,"y":27},{"p":"NC-2","s":"TDOS","x":-1.78,"y":28},{"p":"NC-2","s":"TDOS","x":-1.62,"y":22},{"p":"NC-2","s":"TDOS","x":-1.43,"y":12},{"p":"NC-2","s":"TDOS","x":-1.28,"y":15},{"p":"NC-2","s":"TDOS","x":-1.05,"y":17},{"p":"NC-2","s":"TDOS","x":-0.89,"y":15},{"p":"NC-2","s":"TDOS","x":-0.74,"y":17},{"p":"NC-2","s":"TDOS","x":-0.61,"y":2},{"p":"NC-2","s":"TDOS","x":-0.4,"y":0},{"p":"NC-2","s":"TDOS","x":-0.22,"y":5},{"p":"NC-2","s":"TDOS","x":-0.1,"y":0},{"p":"NC-2","s":"TDOS","x":0.89,"y":0},{"p":"NC-2","s":"TDOS","x":1.05,"y":5},{"p":"NC-2","s":"TDOS","x":1.16,"y":0},{"p":"NC-2","s":"TDOS","x":1.52,"y":0},{"p":"NC-2","s":"TDOS","x":1.7,"y":7},{"p":"NC-2","s":"TDOS","x":1.9,"y":4},{"p":"NC-2","s":"TDOS","x":2.13,"y":5},{"p":"NC-2","s":"TDOS","x":2.36,"y":3},{"p":"NC-2","s":"TDOS","x":2.52,"y":0},{"p":"NC-2","s":"TDOS","x":2.75,"y":23},{"p":"NC-2","s":"TDOS","x":2.91,"y":37},{"p":"NC-2","s":"TDOS","x":3.06,"y":48},{"p":"NC-2","s":"TDOS","x":3.22,"y":40},{"p":"NC-2","s":"TDOS","x":3.37,"y":33},{"p":"NC-2","s":"TDOS","x":3.53,"y":40},{"p":"NC-2","s":"TDOS","x":3.68,"y":43},{"p":"NC-2","s":"TDOS","x":3.91,"y":48},{"p":"NC-2","s":"TDOS","x":4.15,"y":53},{"p":"NC-2","s":"TDOS","x":4.3,"y":60},{"p":"NC-2","s":"TDOS","x":4.46,"y":59},{"p":"NC-2","s":"TDOS","x":4.58,"y":58},{"p":"NC-2","s":"TDOS","x":4.74,"y":0},{"p":"NC-2","s":"TDOS","x":5.02,"y":0},
{"p":"NC-2","s":"C","x":-6.9,"y":2},{"p":"NC-2","s":"C","x":-6.7,"y":12},{"p":"NC-2","s":"C","x":-6.55,"y":15},{"p":"NC-2","s":"C","x":-6.4,"y":12},{"p":"NC-2","s":"C","x":-6.16,"y":17},{"p":"NC-2","s":"C","x":-5.84,"y":22},{"p":"NC-2","s":"C","x":-5.62,"y":23},{"p":"NC-2","s":"C","x":-5.47,"y":17},{"p":"NC-2","s":"C","x":-5.31,"y":5},{"p":"NC-2","s":"C","x":-5.16,"y":2},{"p":"NC-2","s":"C","x":-5.0,"y":8},{"p":"NC-2","s":"C","x":-4.77,"y":12},{"p":"NC-2","s":"C","x":-4.53,"y":17},{"p":"NC-2","s":"C","x":-4.3,"y":18},{"p":"NC-2","s":"C","x":-4.07,"y":22},{"p":"NC-2","s":"C","x":-3.86,"y":25},{"p":"NC-2","s":"C","x":-3.76,"y":10},{"p":"NC-2","s":"C","x":-3.53,"y":3},{"p":"NC-2","s":"C","x":-2.83,"y":2},{"p":"NC-2","s":"C","x":-2.29,"y":2},{"p":"NC-2","s":"C","x":-2.13,"y":8},{"p":"NC-2","s":"C","x":-1.9,"y":12},{"p":"NC-2","s":"C","x":-1.67,"y":10},{"p":"NC-2","s":"C","x":-1.51,"y":3},{"p":"NC-2","s":"C","x":-0.97,"y":2},{"p":"NC-2","s":"C","x":-0.05,"y":0},{"p":"NC-2","s":"C","x":2.67,"y":2},{"p":"NC-2","s":"C","x":2.91,"y":10},{"p":"NC-2","s":"C","x":3.09,"y":14},{"p":"NC-2","s":"C","x":3.29,"y":10},{"p":"NC-2","s":"C","x":3.53,"y":2},{"p":"NC-2","s":"C","x":4.58,"y":2},{"p":"NC-2","s":"C","x":4.74,"y":0},{"p":"NC-2","s":"C","x":5.02,"y":0},
{"p":"NC-2","s":"S","x":-6.9,"y":2},{"p":"NC-2","s":"S","x":-6.4,"y":4},{"p":"NC-2","s":"S","x":-5.84,"y":7},{"p":"NC-2","s":"S","x":-5.47,"y":3},{"p":"NC-2","s":"S","x":-4.69,"y":2},{"p":"NC-2","s":"S","x":-4.07,"y":3},{"p":"NC-2","s":"S","x":-3.5,"y":1},{"p":"NC-2","s":"S","x":5.02,"y":0},
{"p":"NC-2","s":"H","x":-6.9,"y":3},{"p":"NC-2","s":"H","x":-6.55,"y":10},{"p":"NC-2","s":"H","x":-6.24,"y":8},{"p":"NC-2","s":"H","x":-5.84,"y":12},{"p":"NC-2","s":"H","x":-5.62,"y":8},{"p":"NC-2","s":"H","x":-5.31,"y":3},{"p":"NC-2","s":"H","x":-4.69,"y":3},{"p":"NC-2","s":"H","x":-4.07,"y":5},{"p":"NC-2","s":"H","x":-3.61,"y":2},{"p":"NC-2","s":"H","x":-2.5,"y":1},{"p":"NC-2","s":"H","x":5.02,"y":0},
{"p":"NC-2","s":"Ag","x":-6.9,"y":1},{"p":"NC-2","s":"Ag","x":-5.62,"y":2},{"p":"NC-2","s":"Ag","x":-5.0,"y":7},{"p":"NC-2","s":"Ag","x":-4.61,"y":13},{"p":"NC-2","s":"Ag","x":-4.22,"y":18},{"p":"NC-2","s":"Ag","x":-3.84,"y":22},{"p":"NC-2","s":"Ag","x":-3.61,"y":25},{"p":"NC-2","s":"Ag","x":-3.37,"y":27},{"p":"NC-2","s":"Ag","x":-3.22,"y":25},{"p":"NC-2","s":"Ag","x":-2.98,"y":18},{"p":"NC-2","s":"Ag","x":-2.75,"y":10},{"p":"NC-2","s":"Ag","x":-2.52,"y":7},{"p":"NC-2","s":"Ag","x":-2.05,"y":4},{"p":"NC-2","s":"Ag","x":-1.43,"y":3},{"p":"NC-2","s":"Ag","x":-0.81,"y":3},{"p":"NC-2","s":"Ag","x":-0.05,"y":0},{"p":"NC-2","s":"Ag","x":3.5,"y":1},{"p":"NC-2","s":"Ag","x":4.6,"y":1},{"p":"NC-2","s":"Ag","x":5.02,"y":0},
{"p":"NC-2","s":"Au","x":-6.9,"y":1},{"p":"NC-2","s":"Au","x":-5.93,"y":2},{"p":"NC-2","s":"Au","x":-5.16,"y":3},{"p":"NC-2","s":"Au","x":-4.69,"y":4},{"p":"NC-2","s":"Au","x":-4.07,"y":5},{"p":"NC-2","s":"Au","x":-3.61,"y":3},{"p":"NC-2","s":"Au","x":-3.3,"y":5},{"p":"NC-2","s":"Au","x":-2.91,"y":7},{"p":"NC-2","s":"Au","x":-2.75,"y":9},{"p":"NC-2","s":"Au","x":-2.6,"y":7},{"p":"NC-2","s":"Au","x":-2.44,"y":3},{"p":"NC-2","s":"Au","x":-2.21,"y":1},{"p":"NC-2","s":"Au","x":-0.9,"y":1},{"p":"NC-2","s":"Au","x":0.0,"y":0},{"p":"NC-2","s":"Au","x":5.02,"y":0},
{"p":"NC-3","s":"TDOS","x":-6.9,"y":22},{"p":"NC-3","s":"TDOS","x":-6.78,"y":50},{"p":"NC-3","s":"TDOS","x":-6.63,"y":22},{"p":"NC-3","s":"TDOS","x":-6.47,"y":47},{"p":"NC-3","s":"TDOS","x":-6.31,"y":18},{"p":"NC-3","s":"TDOS","x":-6.16,"y":58},{"p":"NC-3","s":"TDOS","x":-5.96,"y":72},{"p":"NC-3","s":"TDOS","x":-5.84,"y":65},{"p":"NC-3","s":"TDOS","x":-5.7,"y":17},{"p":"NC-3","s":"TDOS","x":-5.54,"y":58},{"p":"NC-3","s":"TDOS","x":-5.39,"y":65},{"p":"NC-3","s":"TDOS","x":-5.23,"y":40},{"p":"NC-3","s":"TDOS","x":-5.12,"y":62},{"p":"NC-3","s":"TDOS","x":-5.0,"y":20},{"p":"NC-3","s":"TDOS","x":-4.77,"y":45},{"p":"NC-3","s":"TDOS","x":-4.53,"y":55},{"p":"NC-3","s":"TDOS","x":-4.3,"y":62},{"p":"NC-3","s":"TDOS","x":-4.15,"y":63},{"p":"NC-3","s":"TDOS","x":-3.99,"y":55},{"p":"NC-3","s":"TDOS","x":-3.79,"y":42},{"p":"NC-3","s":"TDOS","x":-3.6,"y":32},{"p":"NC-3","s":"TDOS","x":-3.37,"y":35},{"p":"NC-3","s":"TDOS","x":-3.14,"y":33},{"p":"NC-3","s":"TDOS","x":-2.95,"y":42},{"p":"NC-3","s":"TDOS","x":-2.75,"y":33},{"p":"NC-3","s":"TDOS","x":-2.52,"y":45},{"p":"NC-3","s":"TDOS","x":-2.33,"y":48},{"p":"NC-3","s":"TDOS","x":-2.21,"y":40},{"p":"NC-3","s":"TDOS","x":-2.05,"y":27},{"p":"NC-3","s":"TDOS","x":-1.9,"y":22},{"p":"NC-3","s":"TDOS","x":-1.74,"y":20},{"p":"NC-3","s":"TDOS","x":-1.59,"y":12},{"p":"NC-3","s":"TDOS","x":-1.43,"y":15},{"p":"NC-3","s":"TDOS","x":-1.28,"y":22},{"p":"NC-3","s":"TDOS","x":-1.12,"y":20},{"p":"NC-3","s":"TDOS","x":-0.97,"y":18},{"p":"NC-3","s":"TDOS","x":-0.78,"y":12},{"p":"NC-3","s":"TDOS","x":-0.66,"y":3},{"p":"NC-3","s":"TDOS","x":-0.5,"y":5},{"p":"NC-3","s":"TDOS","x":-0.35,"y":5},{"p":"NC-3","s":"TDOS","x":-0.2,"y":4},{"p":"NC-3","s":"TDOS","x":-0.08,"y":0},{"p":"NC-3","s":"TDOS","x":0.78,"y":0},{"p":"NC-3","s":"TDOS","x":0.89,"y":7},{"p":"NC-3","s":"TDOS","x":0.98,"y":0},{"p":"NC-3","s":"TDOS","x":1.35,"y":0},{"p":"NC-3","s":"TDOS","x":1.43,"y":7},{"p":"NC-3","s":"TDOS","x":1.55,"y":0},{"p":"NC-3","s":"TDOS","x":1.82,"y":10},{"p":"NC-3","s":"TDOS","x":1.98,"y":7},{"p":"NC-3","s":"TDOS","x":2.13,"y":8},{"p":"NC-3","s":"TDOS","x":2.36,"y":3},{"p":"NC-3","s":"TDOS","x":2.5,"y":12},{"p":"NC-3","s":"TDOS","x":2.75,"y":50},{"p":"NC-3","s":"TDOS","x":2.91,"y":58},{"p":"NC-3","s":"TDOS","x":3.06,"y":45},{"p":"NC-3","s":"TDOS","x":3.22,"y":38},{"p":"NC-3","s":"TDOS","x":3.37,"y":48},{"p":"NC-3","s":"TDOS","x":3.53,"y":52},{"p":"NC-3","s":"TDOS","x":3.68,"y":58},{"p":"NC-3","s":"TDOS","x":3.91,"y":65},{"p":"NC-3","s":"TDOS","x":4.07,"y":74},{"p":"NC-3","s":"TDOS","x":4.22,"y":70},{"p":"NC-3","s":"TDOS","x":4.37,"y":65},{"p":"NC-3","s":"TDOS","x":4.5,"y":32},{"p":"NC-3","s":"TDOS","x":4.57,"y":0},{"p":"NC-3","s":"TDOS","x":5.02,"y":0},
{"p":"NC-3","s":"C","x":-6.9,"y":17},{"p":"NC-3","s":"C","x":-6.7,"y":20},{"p":"NC-3","s":"C","x":-6.55,"y":13},{"p":"NC-3","s":"C","x":-6.24,"y":12},{"p":"NC-3","s":"C","x":-6.0,"y":27},{"p":"NC-3","s":"C","x":-5.85,"y":17},{"p":"NC-3","s":"C","x":-5.62,"y":15},{"p":"NC-3","s":"C","x":-5.47,"y":12},{"p":"NC-3","s":"C","x":-5.23,"y":5},{"p":"NC-3","s":"C","x":-5.0,"y":6},{"p":"NC-3","s":"C","x":-4.77,"y":13},{"p":"NC-3","s":"C","x":-4.53,"y":18},{"p":"NC-3","s":"C","x":-4.22,"y":22},{"p":"NC-3","s":"C","x":-4.07,"y":20},{"p":"NC-3","s":"C","x":-3.91,"y":13},{"p":"NC-3","s":"C","x":-3.61,"y":8},{"p":"NC-3","s":"C","x":-2.98,"y":5},{"p":"NC-3","s":"C","x":-2.52,"y":8},{"p":"NC-3","s":"C","x":-2.29,"y":13},{"p":"NC-3","s":"C","x":-2.13,"y":12},{"p":"NC-3","s":"C","x":-1.9,"y":5},{"p":"NC-3","s":"C","x":-1.43,"y":2},{"p":"NC-3","s":"C","x":-0.66,"y":1},{"p":"NC-3","s":"C","x":-0.05,"y":0},{"p":"NC-3","s":"C","x":2.45,"y":2},{"p":"NC-3","s":"C","x":2.67,"y":12},{"p":"NC-3","s":"C","x":2.83,"y":17},{"p":"NC-3","s":"C","x":2.98,"y":13},{"p":"NC-3","s":"C","x":3.22,"y":5},{"p":"NC-3","s":"C","x":3.53,"y":2},{"p":"NC-3","s":"C","x":4.45,"y":2},{"p":"NC-3","s":"C","x":4.57,"y":0},{"p":"NC-3","s":"C","x":5.02,"y":0},
{"p":"NC-3","s":"S","x":-6.9,"y":8},{"p":"NC-3","s":"S","x":-6.4,"y":8},{"p":"NC-3","s":"S","x":-6.09,"y":7},{"p":"NC-3","s":"S","x":-5.62,"y":3},{"p":"NC-3","s":"S","x":-5.0,"y":2},{"p":"NC-3","s":"S","x":-4.0,"y":1},{"p":"NC-3","s":"S","x":5.02,"y":0},
{"p":"NC-3","s":"H","x":-6.9,"y":15},{"p":"NC-3","s":"H","x":-6.65,"y":12},{"p":"NC-3","s":"H","x":-6.4,"y":15},{"p":"NC-3","s":"H","x":-6.09,"y":10},{"p":"NC-3","s":"H","x":-5.78,"y":7},{"p":"NC-3","s":"H","x":-5.31,"y":3},{"p":"NC-3","s":"H","x":-4.69,"y":3},{"p":"NC-3","s":"H","x":-4.0,"y":2},{"p":"NC-3","s":"H","x":-3.0,"y":1},{"p":"NC-3","s":"H","x":5.02,"y":0},
{"p":"NC-3","s":"Ag","x":-6.9,"y":1},{"p":"NC-3","s":"Ag","x":-5.62,"y":2},{"p":"NC-3","s":"Ag","x":-4.84,"y":3},{"p":"NC-3","s":"Ag","x":-4.38,"y":5},{"p":"NC-3","s":"Ag","x":-4.07,"y":7},{"p":"NC-3","s":"Ag","x":-3.61,"y":8},{"p":"NC-3","s":"Ag","x":-3.3,"y":7},{"p":"NC-3","s":"Ag","x":-2.83,"y":4},{"p":"NC-3","s":"Ag","x":-2.21,"y":3},{"p":"NC-3","s":"Ag","x":-1.43,"y":2},{"p":"NC-3","s":"Ag","x":-0.66,"y":1},{"p":"NC-3","s":"Ag","x":0.0,"y":0},{"p":"NC-3","s":"Ag","x":1.3,"y":1},{"p":"NC-3","s":"Ag","x":3.7,"y":2},{"p":"NC-3","s":"Ag","x":4.45,"y":1},{"p":"NC-3","s":"Ag","x":5.02,"y":0},
{"p":"NC-3","s":"Au","x":-6.9,"y":2},{"p":"NC-3","s":"Au","x":-6.4,"y":3},{"p":"NC-3","s":"Au","x":-5.93,"y":2},{"p":"NC-3","s":"Au","x":-5.16,"y":3},{"p":"NC-3","s":"Au","x":-4.92,"y":8},{"p":"NC-3","s":"Au","x":-4.77,"y":13},{"p":"NC-3","s":"Au","x":-4.53,"y":12},{"p":"NC-3","s":"Au","x":-4.22,"y":13},{"p":"NC-3","s":"Au","x":-3.91,"y":12},{"p":"NC-3","s":"Au","x":-3.61,"y":13},{"p":"NC-3","s":"Au","x":-3.37,"y":13},{"p":"NC-3","s":"Au","x":-3.06,"y":22},{"p":"NC-3","s":"Au","x":-2.95,"y":27},{"p":"NC-3","s":"Au","x":-2.83,"y":23},{"p":"NC-3","s":"Au","x":-2.67,"y":18},{"p":"NC-3","s":"Au","x":-2.52,"y":17},{"p":"NC-3","s":"Au","x":-2.36,"y":13},{"p":"NC-3","s":"Au","x":-2.21,"y":10},{"p":"NC-3","s":"Au","x":-1.9,"y":3},{"p":"NC-3","s":"Au","x":-1.28,"y":2},{"p":"NC-3","s":"Au","x":-0.66,"y":1},{"p":"NC-3","s":"Au","x":0.0,"y":0},{"p":"NC-3","s":"Au","x":1.2,"y":1},{"p":"NC-3","s":"Au","x":2.7,"y":2},{"p":"NC-3","s":"Au","x":3.6,"y":2},{"p":"NC-3","s":"Au","x":4.45,"y":1},{"p":"NC-3","s":"Au","x":4.57,"y":0},{"p":"NC-3","s":"Au","x":5.02,"y":0},
{"p":"Au₂₅","s":"TDOS","x":-6.9,"y":35},{"p":"Au₂₅","s":"TDOS","x":-6.78,"y":38},{"p":"Au₂₅","s":"TDOS","x":-6.58,"y":70},{"p":"Au₂₅","s":"TDOS","x":-6.43,"y":45},{"p":"Au₂₅","s":"TDOS","x":-6.27,"y":35},{"p":"Au₂₅","s":"TDOS","x":-6.09,"y":28},{"p":"Au₂₅","s":"TDOS","x":-5.9,"y":55},{"p":"Au₂₅","s":"TDOS","x":-5.78,"y":42},{"p":"Au₂₅","s":"TDOS","x":-5.65,"y":52},{"p":"Au₂₅","s":"TDOS","x":-5.5,"y":25},{"p":"Au₂₅","s":"TDOS","x":-5.39,"y":37},{"p":"Au₂₅","s":"TDOS","x":-5.23,"y":32},{"p":"Au₂₅","s":"TDOS","x":-5.08,"y":35},{"p":"Au₂₅","s":"TDOS","x":-4.88,"y":38},{"p":"Au₂₅","s":"TDOS","x":-4.72,"y":32},{"p":"Au₂₅","s":"TDOS","x":-4.53,"y":67},{"p":"Au₂₅","s":"TDOS","x":-4.38,"y":60},{"p":"Au₂₅","s":"TDOS","x":-4.22,"y":63},{"p":"Au₂₅","s":"TDOS","x":-4.07,"y":55},{"p":"Au₂₅","s":"TDOS","x":-3.88,"y":45},{"p":"Au₂₅","s":"TDOS","x":-3.76,"y":38},{"p":"Au₂₅","s":"TDOS","x":-3.6,"y":42},{"p":"Au₂₅","s":"TDOS","x":-3.45,"y":28},{"p":"Au₂₅","s":"TDOS","x":-3.29,"y":38},{"p":"Au₂₅","s":"TDOS","x":-3.17,"y":57},{"p":"Au₂₅","s":"TDOS","x":-3.02,"y":52},{"p":"Au₂₅","s":"TDOS","x":-2.86,"y":40},{"p":"Au₂₅","s":"TDOS","x":-2.75,"y":52},{"p":"Au₂₅","s":"TDOS","x":-2.64,"y":43},{"p":"Au₂₅","s":"TDOS","x":-2.52,"y":48},{"p":"Au₂₅","s":"TDOS","x":-2.36,"y":40},{"p":"Au₂₅","s":"TDOS","x":-2.21,"y":47},{"p":"Au₂₅","s":"TDOS","x":-2.02,"y":52},{"p":"Au₂₅","s":"TDOS","x":-1.9,"y":15},{"p":"Au₂₅","s":"TDOS","x":-1.78,"y":22},{"p":"Au₂₅","s":"TDOS","x":-1.67,"y":25},{"p":"Au₂₅","s":"TDOS","x":-1.55,"y":15},{"p":"Au₂₅","s":"TDOS","x":-1.41,"y":18},{"p":"Au₂₅","s":"TDOS","x":-1.28,"y":22},{"p":"Au₂₅","s":"TDOS","x":-1.12,"y":15},{"p":"Au₂₅","s":"TDOS","x":-1.02,"y":22},{"p":"Au₂₅","s":"TDOS","x":-0.89,"y":12},{"p":"Au₂₅","s":"TDOS","x":-0.74,"y":5},{"p":"Au₂₅","s":"TDOS","x":-0.66,"y":0},{"p":"Au₂₅","s":"TDOS","x":-0.27,"y":0},{"p":"Au₂₅","s":"TDOS","x":-0.16,"y":8},{"p":"Au₂₅","s":"TDOS","x":-0.04,"y":0},{"p":"Au₂₅","s":"TDOS","x":0.89,"y":0},{"p":"Au₂₅","s":"TDOS","x":1.05,"y":7},{"p":"Au₂₅","s":"TDOS","x":1.16,"y":0},{"p":"Au₂₅","s":"TDOS","x":1.43,"y":0},{"p":"Au₂₅","s":"TDOS","x":1.54,"y":5},{"p":"Au₂₅","s":"TDOS","x":1.64,"y":0},{"p":"Au₂₅","s":"TDOS","x":1.79,"y":12},{"p":"Au₂₅","s":"TDOS","x":1.95,"y":10},{"p":"Au₂₅","s":"TDOS","x":2.13,"y":7},{"p":"Au₂₅","s":"TDOS","x":2.32,"y":10},{"p":"Au₂₅","s":"TDOS","x":2.41,"y":22},{"p":"Au₂₅","s":"TDOS","x":2.52,"y":45},{"p":"Au₂₅","s":"TDOS","x":2.67,"y":60},{"p":"Au₂₅","s":"TDOS","x":2.83,"y":57},{"p":"Au₂₅","s":"TDOS","x":2.94,"y":52},{"p":"Au₂₅","s":"TDOS","x":3.06,"y":55},{"p":"Au₂₅","s":"TDOS","x":3.19,"y":50},{"p":"Au₂₅","s":"TDOS","x":3.29,"y":55},{"p":"Au₂₅","s":"TDOS","x":3.45,"y":58},{"p":"Au₂₅","s":"TDOS","x":3.6,"y":65},{"p":"Au₂₅","s":"TDOS","x":3.76,"y":73},{"p":"Au₂₅","s":"TDOS","x":3.91,"y":77},{"p":"Au₂₅","s":"TDOS","x":4.02,"y":72},{"p":"Au₂₅","s":"TDOS","x":4.15,"y":80},{"p":"Au₂₅","s":"TDOS","x":4.24,"y":72},{"p":"Au₂₅","s":"TDOS","x":4.38,"y":0},{"p":"Au₂₅","s":"TDOS","x":5.02,"y":0},
{"p":"Au₂₅","s":"C","x":-6.9,"y":15},{"p":"Au₂₅","s":"C","x":-6.78,"y":13},{"p":"Au₂₅","s":"C","x":-6.55,"y":25},{"p":"Au₂₅","s":"C","x":-6.31,"y":15},{"p":"Au₂₅","s":"C","x":-6.09,"y":15},{"p":"Au₂₅","s":"C","x":-5.85,"y":22},{"p":"Au₂₅","s":"C","x":-5.62,"y":8},{"p":"Au₂₅","s":"C","x":-5.39,"y":7},{"p":"Au₂₅","s":"C","x":-5.0,"y":12},{"p":"Au₂₅","s":"C","x":-4.77,"y":18},{"p":"Au₂₅","s":"C","x":-4.53,"y":31},{"p":"Au₂₅","s":"C","x":-4.38,"y":22},{"p":"Au₂₅","s":"C","x":-4.22,"y":7},{"p":"Au₂₅","s":"C","x":-3.76,"y":5},{"p":"Au₂₅","s":"C","x":-3.29,"y":5},{"p":"Au₂₅","s":"C","x":-2.83,"y":5},{"p":"Au₂₅","s":"C","x":-2.52,"y":7},{"p":"Au₂₅","s":"C","x":-2.36,"y":3},{"p":"Au₂₅","s":"C","x":-2.21,"y":12},{"p":"Au₂₅","s":"C","x":-2.1,"y":15},{"p":"Au₂₅","s":"C","x":-1.98,"y":5},{"p":"Au₂₅","s":"C","x":-1.67,"y":2},{"p":"Au₂₅","s":"C","x":-1.05,"y":1},{"p":"Au₂₅","s":"C","x":-0.3,"y":0},{"p":"Au₂₅","s":"C","x":2.36,"y":5},{"p":"Au₂₅","s":"C","x":2.52,"y":12},{"p":"Au₂₅","s":"C","x":2.75,"y":15},{"p":"Au₂₅","s":"C","x":2.94,"y":12},{"p":"Au₂₅","s":"C","x":3.22,"y":3},{"p":"Au₂₅","s":"C","x":3.68,"y":2},{"p":"Au₂₅","s":"C","x":4.3,"y":2},{"p":"Au₂₅","s":"C","x":4.38,"y":0},{"p":"Au₂₅","s":"C","x":5.02,"y":0},
{"p":"Au₂₅","s":"S","x":-6.9,"y":3},{"p":"Au₂₅","s":"S","x":-6.4,"y":5},{"p":"Au₂₅","s":"S","x":-5.62,"y":2},{"p":"Au₂₅","s":"S","x":-4.69,"y":1},{"p":"Au₂₅","s":"S","x":5.02,"y":0},
{"p":"Au₂₅","s":"H","x":-6.9,"y":6},{"p":"Au₂₅","s":"H","x":-6.24,"y":8},{"p":"Au₂₅","s":"H","x":-5.62,"y":3},{"p":"Au₂₅","s":"H","x":-5.0,"y":2},{"p":"Au₂₅","s":"H","x":-4.0,"y":1},{"p":"Au₂₅","s":"H","x":5.02,"y":0},
{"p":"Au₂₅","s":"Au","x":-6.9,"y":8},{"p":"Au₂₅","s":"Au","x":-6.72,"y":7},{"p":"Au₂₅","s":"Au","x":-6.55,"y":12},{"p":"Au₂₅","s":"Au","x":-6.31,"y":3},{"p":"Au₂₅","s":"Au","x":-6.09,"y":7},{"p":"Au₂₅","s":"Au","x":-5.85,"y":3},{"p":"Au₂₅","s":"Au","x":-5.62,"y":7},{"p":"Au₂₅","s":"Au","x":-5.39,"y":12},{"p":"Au₂₅","s":"Au","x":-5.19,"y":7},{"p":"Au₂₅","s":"Au","x":-5.0,"y":13},{"p":"Au₂₅","s":"Au","x":-4.77,"y":15},{"p":"Au₂₅","s":"Au","x":-4.53,"y":13},{"p":"Au₂₅","s":"Au","x":-4.3,"y":15},{"p":"Au₂₅","s":"Au","x":-4.15,"y":23},{"p":"Au₂₅","s":"Au","x":-3.99,"y":15},{"p":"Au₂₅","s":"Au","x":-3.84,"y":13},{"p":"Au₂₅","s":"Au","x":-3.68,"y":28},{"p":"Au₂₅","s":"Au","x":-3.53,"y":23},{"p":"Au₂₅","s":"Au","x":-3.37,"y":32},{"p":"Au₂₅","s":"Au","x":-3.26,"y":42},{"p":"Au₂₅","s":"Au","x":-3.14,"y":37},{"p":"Au₂₅","s":"Au","x":-3.02,"y":43},{"p":"Au₂₅","s":"Au","x":-2.86,"y":30},{"p":"Au₂₅","s":"Au","x":-2.71,"y":22},{"p":"Au₂₅","s":"Au","x":-2.55,"y":25},{"p":"Au₂₅","s":"Au","x":-2.36,"y":20},{"p":"Au₂₅","s":"Au","x":-2.21,"y":22},{"p":"Au₂₅","s":"Au","x":-2.05,"y":18},{"p":"Au₂₅","s":"Au","x":-1.9,"y":5},{"p":"Au₂₅","s":"Au","x":-1.67,"y":12},{"p":"Au₂₅","s":"Au","x":-1.51,"y":7},{"p":"Au₂₅","s":"Au","x":-1.36,"y":8},{"p":"Au₂₅","s":"Au","x":-1.12,"y":7},{"p":"Au₂₅","s":"Au","x":-0.97,"y":8},{"p":"Au₂₅","s":"Au","x":-0.81,"y":3},{"p":"Au₂₅","s":"Au","x":-0.66,"y":0},{"p":"Au₂₅","s":"Au","x":0.5,"y":0},{"p":"Au₂₅","s":"Au","x":1.2,"y":1},{"p":"Au₂₅","s":"Au","x":1.82,"y":3},{"p":"Au₂₅","s":"Au","x":2.4,"y":2},{"p":"Au₂₅","s":"Au","x":3.5,"y":2},{"p":"Au₂₅","s":"Au","x":4.15,"y":3},{"p":"Au₂₅","s":"Au","x":4.38,"y":0},{"p":"Au₂₅","s":"Au","x":5.02,"y":0}
]},
"hconcat":[
{"vconcat":[
 {"width":247,"height":186,
  "title":{"text":"a","anchor":"start","frame":"group","baseline":"alphabetic","offset":0,"dx":-53,"dy":26},
  "data":{"name":"bars"},
  "encoding":{
   "x":{"field":"k","type":"nominal","sort":null,"title":null,"scale":{"paddingInner":0.44,"paddingOuter":0.354,"align":0.32},"axis":{"title":null,"labelAngle":0,"tickBand":"extent","tickSize":4,"labelPadding":3,"domain":false}},
   "y":{"field":"v","type":"quantitative","scale":{"domain":[0,17.2],"nice":false},"axis":{"title":"H₂ Evolution (μmol·gCatal.⁻¹·h⁻¹)","values":[0,1,2,3,4,5,6,7,8,9,10,11,12,13,14,15,16,17],"labelExpr":"datum.value % 2 == 0 ? datum.label : ''","labelOverlap":false,"tickSize":3,"domain":false,"titlePadding":13}}
  },
  "layer":[
   {"mark":{"type":"bar"},
    "encoding":{
     "color":{"field":"k","type":"nominal","sort":null,"scale":{"domain":["TiO₂","Ag₂₅","NC-1","NC-2","NC-3","Au₂₅"],"range":["#888888","#9e364a","#e3aa74","#55699f","#8cbfa4","#6a9da8"]},"legend":null}}},
   {"mark":{"type":"text","baseline":"bottom","dy":-2,"fontSize":12.5},
    "encoding":{"text":{"field":"n"}}}
  ]},
 {"data":{"name":"dosc"},
  "title":{"text":"c","anchor":"start","frame":"group","baseline":"alphabetic","offset":0,"dx":-51,"dy":38},
  "facet":{"row":{"field":"p","type":"nominal","sort":["Ag₂₅","NC-1","NC-2","NC-3","Au₂₅"],"header":{"labels":false,"title":"Density of States","titleOrient":"left","titlePadding":1}}},
  "spacing":0,
  "bounds":"flush",
  "spec":{"width":247,"height":53,
   "layer":[
    {"transform":[{"filter":"datum.s == 'pink'"}],"mark":{"type":"rect","fill":"#dcc2c8"},
     "encoding":{"x":{"field":"x","type":"quantitative","title":null,"scale":{"domain":[-2,3],"nice":false},"axis":{"title":null,"values":[-2,-1.5,-1,-0.5,0,0.5,1,1.5,2,2.5,3],"labelExpr":"datum.value % 1 == 0 ? (datum.value < 0 ? '-' + abs(datum.value) : '' + datum.value) : ''","tickSize":-3,"labelPadding":6,"domain":false}},"x2":{"field":"x2"}}},
    {"transform":[{"filter":"datum.s == 'blue'"}],"mark":{"type":"rect","fill":"#d9dfeb"},
     "encoding":{"x":{"field":"x","type":"quantitative","title":null},"x2":{"field":"x2"}}},
    {"transform":[{"filter":"datum.s == 'Ag (d)' || datum.s == 'Au (d)'"}],"mark":{"type":"line","strokeWidth":1.3,"interpolate":"monotone"},
     "encoding":{"x":{"field":"x","type":"quantitative","title":null},"y":{"field":"y","type":"quantitative","scale":{"domain":[0,53],"nice":false},"axis":null},
      "color":{"field":"s","type":"nominal","scale":{"domain":["Ag (d)","Au (d)"],"range":["#e3a46e","#4c63b3"]},"legend":{"orient":"none","legendX":57,"legendY":-16,"direction":"horizontal","title":null,"symbolType":"stroke","symbolSize":121,"symbolStrokeWidth":1.5,"columnPadding":15,"labelOffset":2}}}},
    {"transform":[{"filter":"datum.s == 'lab'"}],"mark":{"type":"rect","fill":"#ff9a9a"},
     "encoding":{"x":{"datum":-2},"x2":{"datum":-1.37},"y":{"datum":53,"axis":null},"y2":{"datum":39}}},
    {"transform":[{"filter":"datum.s == 'lab'"}],"mark":{"type":"text","align":"left","baseline":"top","dx":3,"dy":1.5,"fontSize":11},
     "encoding":{"x":{"datum":-2},"y":{"datum":53,"axis":null},"text":{"field":"t"}}}
   ]}}
 ],
 "spacing":45,"bounds":"flush",
 "resolve":{"scale":{"color":"independent"},"legend":{"color":"independent"}}},
{"vconcat":[
 {"width":257,"height":23,"data":{"values":[]},"mark":"point","view":{"stroke":null},
  "title":{"text":"b","anchor":"start","frame":"group","baseline":"alphabetic","offset":0,"dx":-29,"dy":25}},
 {"data":{"name":"dosb"},
  "facet":{"row":{"field":"p","type":"nominal","sort":["Ag₂₅","NC-1","NC-2","NC-3","Au₂₅"],"header":{"labels":false,"title":"Density of States","titleOrient":"left","titlePadding":0}}},
  "spacing":0,
  "bounds":"flush",
  "spec":{"width":257,"height":94.6,
   "layer":[
    {"transform":[{"filter":"datum.s != 'lab'"}],"mark":{"type":"line","strokeWidth":1.2,"interpolate":"monotone"},
     "encoding":{"x":{"field":"x","type":"quantitative","title":null,"scale":{"domain":[-6.93,5.02],"nice":false},"axis":{"title":null,"values":[-6,-5,-4,-3,-2,-1,0,1,2,3,4],"labelExpr":"datum.value % 2 == 0 ? '-' + abs(datum.value) : ''","tickSize":-3,"labelPadding":6,"domain":false}},
      "y":{"field":"y","type":"quantitative","scale":{"domain":[0,95],"nice":false},"axis":null},
      "color":{"field":"s","type":"nominal","scale":{"domain":["TDOS","C","S","H","Ag","Au"],"range":["#a0304f","#e8a56c","#c9d6a2","#f0e2a0","#7cc4a2","#4a60b2"]},"legend":{"orient":"none","legendX":-1,"legendY":-21,"direction":"horizontal","title":null,"symbolType":"stroke","symbolSize":100,"symbolStrokeWidth":1.5,"columnPadding":13,"labelOffset":2}}}},
    {"transform":[{"filter":"datum.s == 'lab'"}],"mark":{"type":"rect","fill":"#ff9a9a"},
     "encoding":{"x":{"datum":-6.93},"x2":{"datum":-5.58},"y":{"datum":95,"axis":null},"y2":{"datum":81}}},
    {"transform":[{"filter":"datum.s == 'lab'"}],"mark":{"type":"text","align":"left","baseline":"top","dx":3,"dy":1.5,"fontSize":11},
     "encoding":{"x":{"datum":-6.93},"y":{"datum":95,"axis":null},"text":{"field":"t"}}}
   ]}}
 ],
 "spacing":0,"bounds":"flush",
 "resolve":{"scale":{"color":"independent"},"legend":{"color":"independent"}}}
],
"spacing":15,
"resolve":{"scale":{"color":"independent"},"legend":{"color":"independent"}}
}
